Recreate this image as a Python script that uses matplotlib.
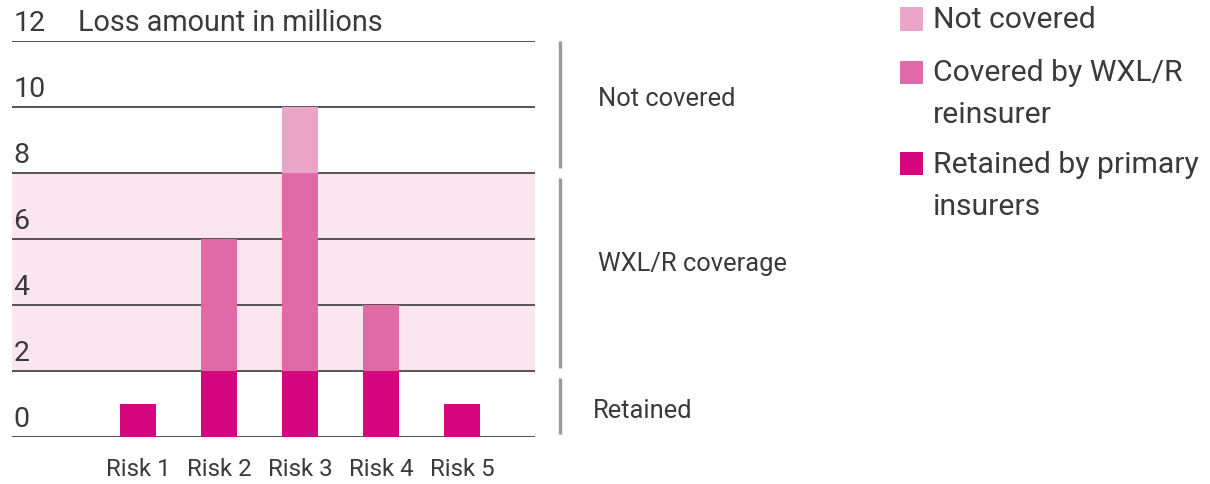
import matplotlib
matplotlib.use("Agg")
import matplotlib.pyplot as plt
from matplotlib.patches import Rectangle
from matplotlib.transforms import blended_transform_factory

plt.rcParams['font.family'] = ['Roboto', 'DejaVu Sans']

# Loss data (millions) per risk, split by layer
risks = ["Risk 1", "Risk 2", "Risk 3", "Risk 4", "Risk 5"]
retained = [1, 2, 2, 2, 1]
covered = [0, 4, 6, 2, 0]
not_covered = [0, 0, 2, 0, 0]

y_ticks = [0, 2, 4, 6, 8, 10, 12]
layer_bounds = {"retention": 2, "limit": 8}
y_title = "Loss amount in millions"

# Bracket segments on the right: (bottom, top, label, label y, label x)
brackets = [(8.15, 12.0, "Not covered", 10.25, 1.12),
            (2.1, 7.85, "WXL/R coverage", 5.25, 1.12),
            (0.1, 1.8, "Retained", 0.8, 1.11)]

legend_labels = ["Not covered", "Covered by WXL/R\nreinsurer", "Retained by primary\ninsurers"]

c_retained = "#D5077F"
c_covered = "#E06AA6"
c_not = "#EBA5C9"
c_band = "#FBE6F0"
c_grid = "#555555"
c_text = "#3a3a3a"
c_bracket = "#9a9a9a"

fig = plt.figure(figsize=(12.1, 4.84), dpi=100)
ax = fig.add_axes([12 / 1210, 47 / 484, 523 / 1210, 396 / 484])

x = list(range(len(risks)))
ax.set_xlim(-1.556, 4.90)
ax.set_ylim(0, 12)

# Coverage band between retention and limit
ax.axhspan(layer_bounds["retention"], layer_bounds["limit"], color=c_band, zorder=0, lw=0)

for v in y_ticks:
    ax.axhline(v, color=c_grid, lw=1.4, zorder=1)

w = 0.44
ax.bar(x, retained, width=w, color=c_retained, zorder=2, lw=0)
ax.bar(x, covered, width=w, bottom=retained, color=c_covered, zorder=2, lw=0)
bottom2 = [a + b for a, b in zip(retained, covered)]
ax.bar(x, not_covered, width=w, bottom=bottom2, color=c_not, zorder=2, lw=0)

for s in ax.spines.values():
    s.set_visible(False)
ax.set_xticks([])
ax.set_yticks([])

trans = blended_transform_factory(ax.transAxes, ax.transData)
for v in y_ticks:
    ax.annotate(str(v), xy=(0.003, v), xycoords=trans, xytext=(0, 7), textcoords="offset points",
                ha="left", va="baseline", fontsize=20.5, color=c_text)
ax.annotate(y_title, xy=(0.126, 12), xycoords=trans, xytext=(0, 7), textcoords="offset points",
            ha="left", va="baseline", fontsize=20.7, color=c_text)

for xi, lab in zip(x, risks):
    ax.text(xi, -1.0, lab, ha="center", va="center", fontsize=17.3, color=c_text)

for lo, hi, lab, ly, lx in brackets:
    ax.plot([1.048, 1.048], [lo, hi], transform=trans, color=c_bracket, lw=2.4,
            clip_on=False, solid_capstyle="butt")
    ax.text(lx, ly, lab, transform=trans, ha="left", va="center", fontsize=18.4, color=c_text)

# Legend drawn manually in figure pixels
leg_colors = [c_not, c_covered, c_retained]
leg_box_y = [19, 72, 164]
leg_text_y = [20, 94, 186]
for col, lab, yb, yt in zip(leg_colors, legend_labels, leg_box_y, leg_text_y):
    fig.patches.append(Rectangle((900 / 1210, 1 - (yb + 11.5) / 484), 23 / 1210, 23 / 484,
                                 transform=fig.transFigure, color=col, lw=0))
    fig.text(933 / 1210, 1 - yt / 484, lab, ha="left", va="center",
             fontsize=21.7, color=c_text, linespacing=1.6)

fig.savefig("out.png", dpi=100)
